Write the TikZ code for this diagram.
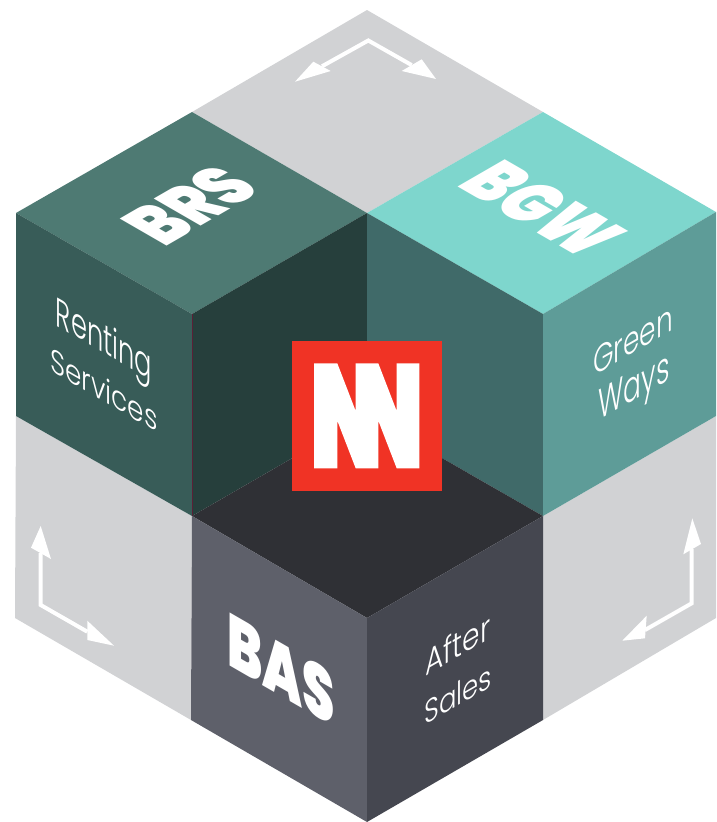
\documentclass[tikz,border=0pt]{standalone}
\usepackage{graphicx}
\usepackage{fontspec}
\newfontfamily\heavyfont{Poppins Black}
\newfontfamily\lightfont{Poppins Light}
\definecolor{greyface}{HTML}{D1D2D4}
\definecolor{brstop}{HTML}{4E7A73}
\definecolor{brsleft}{HTML}{385C58}
\definecolor{brsright}{HTML}{263F3C}
\definecolor{bgwtop}{HTML}{7ED6CD}
\definecolor{bgwleft}{HTML}{406A69}
\definecolor{bgwright}{HTML}{5E9C98}
\definecolor{centertop}{HTML}{2F3035}
\definecolor{basleft}{HTML}{5E606A}
\definecolor{basright}{HTML}{454750}
\definecolor{logored}{HTML}{F03325}
\definecolor{edgeline}{HTML}{5A2036}
\tikzset{
  lbl/.style={text=white, inner sep=0pt, outer sep=0pt, transform shape},
  topup/.style={cm={.866,.5,-.866,.5,(0,0)}},
  topdown/.style={cm={.866,-.5,.866,.5,(0,0)}},
  leftface/.style={cm={.866,-.5,0,1,(0,0)}},
  rightface/.style={cm={.866,.5,0,1,(0,0)}},
  arrowstem/.style={draw=white, line width=4pt, miter limit=10},
  arrowhead/.style={fill=white}
}
\newcommand{\fitted}[4]{\resizebox{#1pt}{#2pt}{#3#4}}
\begin{document}
\begin{tikzpicture}[x=1pt,y=-1pt]
\useasboundingbox (0,0) rectangle (716,822);
% grey faces
\fill[greyface] (367,10) -- (543,112) -- (367,213) -- (192,112) -- cycle;
\fill[greyface] (16,416) -- (192,516) -- (191,720) -- (15,618) -- cycle;
\fill[greyface] (543,516) -- (716,416) -- (716,618) -- (543,720) -- cycle;
% BRS cube
\fill[brstop] (192,112) -- (367,213) -- (192,314) -- (16,213) -- cycle;
\fill[brsleft] (16,213) -- (192,314) -- (192,516) -- (16,416) -- cycle;
\fill[brsright] (192,314) -- (367,213) -- (367,415) -- (192,516) -- cycle;
\draw[edgeline, line width=.6pt] (192,314) -- (192,516);
% BGW cube
\fill[bgwtop] (543,112) -- (716,212) -- (543,314) -- (367,213) -- cycle;
\fill[bgwleft] (367,213) -- (543,314) -- (543,516) -- (367,415) -- cycle;
\fill[bgwright] (543,314) -- (716,212) -- (716,416) -- (543,516) -- cycle;
% BAS cube
\fill[centertop] (367,415) -- (543,516) -- (367,618) -- (192,516) -- cycle;
\fill[basleft] (192,516) -- (367,618) -- (367,822) -- (191,720) -- cycle;
\fill[basright] (367,618) -- (543,516) -- (543,720) -- (367,822) -- cycle;
% logo
\fill[logored] (292,341) rectangle (442,491);
\fill[white] (314,363.3) -- (337.3,363.3) -- (355.7,411) -- (355.7,363.3) -- (378.3,363.3) -- (396.7,411) -- (396.7,363.3) -- (419.3,363.3) -- (419.3,468.3) -- (396.7,468.3) -- (378.3,420.7) -- (378.3,468.3) -- (355.7,468.3) -- (337.3,420.7) -- (337.3,468.3) -- (314,468.3) -- cycle;
% labels
\node (brs) [lbl, shift={(190,205)}, topup] at (0,0) {\fitted{114}{55}{\heavyfont}{BRS}};
\node (bgw) [lbl, shift={(543,209)}, topdown] at (0,0) {\fitted{148}{55}{\heavyfont}{BGW}};
\node (bas) [lbl, shift={(281,669)}, leftface] at (0,0) {\fitted{124}{54}{\heavyfont}{BAS}};
\node (renting) [lbl, shift={(104,343)}, leftface] at (0,0) {\fitted{111}{31}{\lightfont}{Renting}};
\node (services) [lbl, shift={(104,389)}, leftface] at (0,0) {\fitted{124}{25}{\lightfont}{Services}};
\node (green) [lbl, shift={(633,340)}, rightface] at (0,0) {\fitted{92}{27}{\lightfont}{Green}};
\node (ways) [lbl, shift={(634,391)}, rightface] at (0,0) {\fitted{82}{30}{\lightfont}{Ways}};
\node (after) [lbl, shift={(458,644)}, rightface] at (0,0) {\fitted{75}{27}{\lightfont}{After}};
\node (sales) [lbl, shift={(458,694)}, rightface] at (0,0) {\fitted{78}{24}{\lightfont}{Sales}};
% arrows
\coordinate (ta) at (368.3,40.5);
\coordinate (tl) at (322,66.3);
\coordinate (tr) at (411.7,65.1);
\draw[arrowstem] (tl) -- (ta) -- (tr);
\fill[arrowhead] (295,81.7) -- (313.3,61.7) -- (330.7,71) -- cycle;
\fill[arrowhead] (436,79) -- (421.7,59.3) -- (401.7,71) -- cycle;
\coordinate (la) at (40.7,605);
\coordinate (lu) at (40.7,553);
\coordinate (lr) at (87.3,631.7);
\draw[arrowstem] (lu) -- (la) -- (lr);
\fill[arrowhead] (40.7,526) -- (31,547.7) -- (51,559) -- cycle;
\fill[arrowhead] (114,645.7) -- (87.3,620.7) -- (87.3,640) -- cycle;
\coordinate (ra) at (691.7,603.3);
\coordinate (ru) at (691.7,549);
\coordinate (rl) at (645,630);
\draw[arrowstem] (ru) -- (ra) -- (rl);
\fill[arrowhead] (692.3,518.3) -- (683.3,554.3) -- (701,544) -- cycle;
\fill[arrowhead] (622.3,640.7) -- (646.7,615.7) -- (645,638.3) -- cycle;
\end{tikzpicture}
\end{document}
